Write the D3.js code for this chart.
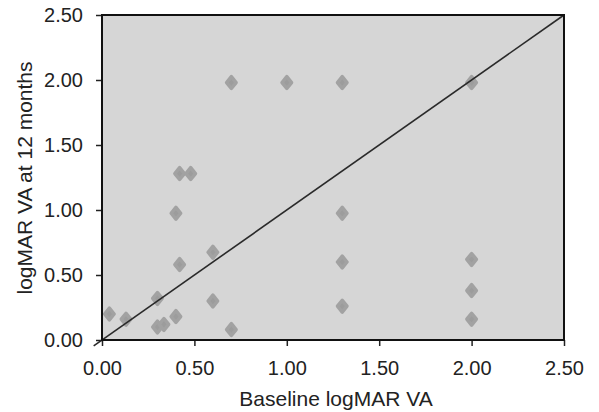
<!DOCTYPE html>
<html>
<head>
<meta charset="utf-8">
<script src="https://cdn.jsdelivr.net/npm/d3@7"></script>
<style>
  body { margin: 0; background: #fff; }
  svg text { font-family: "Liberation Sans", Arial, sans-serif; fill: #222; }
</style>
</head>
<body>
<svg id="chart" width="599" height="412"></svg>
<script>
// Baseline logMAR VA vs logMAR VA at 12 months
const baseline = [0.04, 0.13, 0.30, 0.30, 0.335, 0.40, 0.40, 0.42, 0.42, 0.48, 0.60, 0.60, 0.70, 0.70, 1.00, 1.30, 1.30, 1.30, 1.30, 2.00, 2.00, 2.00, 2.00];
const month12  = [0.20, 0.16, 0.32, 0.10, 0.12, 0.18, 0.975, 0.58, 1.28, 1.28, 0.675, 0.30, 0.08, 1.98, 1.98, 1.98, 0.975, 0.60, 0.26, 1.98, 0.62, 0.38, 0.16];
const ticks = [0, 0.5, 1, 1.5, 2, 2.5];

const width = 599, height = 412;
const margin = { top: 15, right: 35, bottom: 72, left: 102 };

const svg = d3.select("#chart");
const x = d3.scaleLinear().domain([0, 2.5]).range([margin.left, width - margin.right]);
const y = d3.scaleLinear().domain([0, 2.5]).range([height - margin.bottom, margin.top]);

// plot background
svg.append("rect")
  .attr("x", x(0)).attr("y", y(2.5))
  .attr("width", x(2.5) - x(0)).attr("height", y(0) - y(2.5))
  .attr("fill", "#d6d6d6");

// axes
const xAxis = svg.append("g")
  .attr("transform", `translate(0,${y(0)})`)
  .call(d3.axisBottom(x).tickValues(ticks).tickFormat(d3.format(".2f")).tickSize(6).tickPadding(15));
const yAxis = svg.append("g")
  .attr("transform", `translate(${x(0)},0)`)
  .call(d3.axisLeft(y).tickValues(ticks).tickFormat(d3.format(".2f")).tickSize(6).tickPadding(13));

[xAxis, yAxis].forEach(g => {
  g.select(".domain").remove();
  g.selectAll("line").attr("stroke", "#222").attr("stroke-width", 1.5);
  g.selectAll("text").attr("font-size", 20).attr("fill", "#222");
});

// points (rounded diamonds)
svg.append("g")
  .selectAll("path")
  .data(baseline.map((b, i) => [b, month12[i]]))
  .join("path")
  .attr("transform", d => `translate(${x(d[0])},${y(d[1])}) scale(1.4,1)`)
  .attr("d", d3.symbol(d3.symbolDiamond, 40))
  .attr("fill", "#9c9c9c")
  .attr("stroke", "#a2a2a2")
  .attr("stroke-width", 3.5)
  .attr("vector-effect", "non-scaling-stroke")
  .attr("stroke-linejoin", "round");

// line of equality
svg.append("line")
  .attr("x1", x(-0.045)).attr("y1", y(-0.045))
  .attr("x2", x(2.5)).attr("y2", y(2.5))
  .attr("stroke", "#2a2a2a")
  .attr("stroke-width", 1.6);

// frame
svg.append("rect")
  .attr("x", x(0)).attr("y", y(2.5))
  .attr("width", x(2.5) - x(0)).attr("height", y(0) - y(2.5))
  .attr("fill", "none")
  .attr("stroke", "#111")
  .attr("stroke-width", 2);

// axis titles
svg.append("text")
  .attr("x", 336)
  .attr("y", 406)
  .attr("text-anchor", "middle")
  .attr("font-size", 21)
  .text("Baseline logMAR VA");

svg.append("text")
  .attr("transform", `translate(32,178) rotate(-90)`)
  .attr("text-anchor", "middle")
  .attr("font-size", 21)
  .text("logMAR VA at 12 months");
</script>
</body>
</html>
